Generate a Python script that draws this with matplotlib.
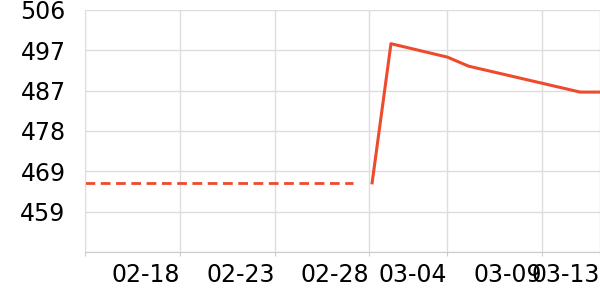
import matplotlib
matplotlib.use("Agg")
import matplotlib.pyplot as plt

# days counted from 02-13
dash_x = [0, 14.1]
dash_y = [466.0, 466.0]

line_x = [15.08, 16.07, 19.03, 20.15, 26.01, 28.0]
line_y = [466.0, 498.2, 495.1, 493.0, 487.0, 487.0]

tick_days = [0, 5, 10, 14.9, 19, 24]
tick_labels = ["", "02-18", "02-23", "02-28", "03-04", "03-09"]
last_label = "03-13"

y_ticks = [450 + 56 / 6 * k for k in range(7)]

color = "#ee4a2c"

fig = plt.figure(figsize=(6, 3), dpi=100)
ax = fig.add_axes([0.1417, 0.16, 0.8583, 0.8067])

ax.plot(dash_x, dash_y, color=color, lw=2, dashes=(3.5, 2))
ax.plot(line_x, line_y, color=color, lw=2.2)

ax.set_xlim(0, 27.05)
ax.set_ylim(450, 506)

ax.set_yticks(y_ticks)
ax.set_yticklabels(["" if v < 455 else str(int(round(v))) for v in y_ticks])
ax.set_xticks(tick_days + [27.05])
ax.set_xticklabels(tick_labels + [last_label], ha="right")

ax.grid(True, color="#dddddd", lw=1)
ax.set_axisbelow(True)
for s in ["top", "right"]:
    ax.spines[s].set_visible(False)
ax.spines["left"].set_color("#dddddd")
ax.spines["bottom"].set_color("#cccccc")
ax.tick_params(axis="y", length=0, pad=14, labelsize=17)
ax.tick_params(axis="x", length=3, color="#cccccc", pad=5, labelsize=17)

fig.savefig("out.png", dpi=100)
